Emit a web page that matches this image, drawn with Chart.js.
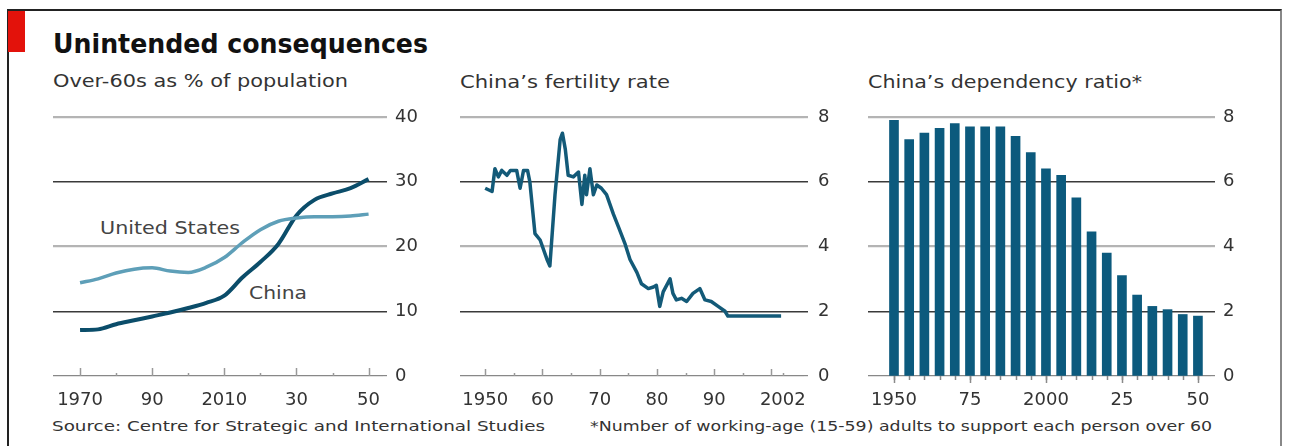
<!DOCTYPE html>
<html>
<head>
<meta charset="UTF-8">
<title>Unintended consequences</title>
<script src="https://cdn.jsdelivr.net/npm/chart.js"></script>
<style>
  body { margin: 0; background: #fff; width: 1290px; height: 446px; overflow: hidden; position: relative; font-family: "DejaVu Sans", sans-serif; }
  .frame { position: absolute; left: 7px; top: 9px; width: 1271px; height: 460px; border-top: 2px solid #222; border-left: 2px solid #222; border-right: 2px solid #888; }
  .red { position: absolute; left: 8px; top: 11px; width: 17px; height: 41px; background: #e3120b; }
  .t { position: absolute; white-space: nowrap; line-height: 1; transform-origin: 0 0; color: #333; }
  canvas { position: absolute; }
</style>
</head>
<body>
<div class="frame"></div>
<div class="red"></div>
<div class="t" data-w="375" style="left:53px;top:30px;font-size:27px;font-weight:bold;color:#111">Unintended consequences</div>
<div class="t" data-w="295" style="left:53px;top:72px;font-size:18px">Over-60s as % of population</div>
<div class="t" data-w="210" style="left:460px;top:73px;font-size:18px">China’s fertility rate</div>
<div class="t" data-w="274" style="left:868px;top:73px;font-size:18px">China’s dependency ratio*</div>
<div class="t" data-w="493" style="left:52px;top:419px;font-size:14px">Source: Centre for Strategic and International Studies</div>
<div class="t" data-w="622" style="left:590px;top:419px;font-size:14px">*Number of working-age (15-59) adults to support each person over 60</div>
<div class="t" data-w="140" style="left:100px;top:219px;font-size:18px;color:#444">United States</div>
<div class="t" data-w="58" style="left:249px;top:284px;font-size:18px;color:#444">China</div>

<canvas id="c1" width="375" height="311" style="left:53px;top:105px"></canvas>
<canvas id="c2" width="389" height="311" style="left:460px;top:105px"></canvas>
<canvas id="c3" width="388" height="311" style="left:868px;top:105px"></canvas>

<script>
// Over-60s as % of population
const popYears = [1970, 1975, 1980, 1985, 1990, 1995, 2000, 2005, 2010, 2015, 2020, 2025, 2030, 2035, 2040, 2045, 2050];
const chinaOver60 = [7.1, 7.2, 8.0, 8.6, 9.2, 9.8, 10.5, 11.3, 12.4, 15.2, 17.6, 20.4, 24.8, 27.2, 28.2, 29.0, 30.4];
const usOver60 = [14.4, 15.0, 15.9, 16.5, 16.7, 16.2, 16.0, 16.8, 18.3, 20.6, 22.6, 23.9, 24.4, 24.6, 24.6, 24.7, 25.0];
const popTicks = [1970, 1990, 2010, 2030, 2050];
const popTickLabels = ['1970', '90', '2010', '30', '50'];
const popMinor = [1980, 2000, 2020, 2040];
const popY = [0, 10, 20, 30, 40];

// China's fertility rate
const fertYears = [1950, 1951.2, 1951.7, 1952.3, 1952.9, 1953.8, 1954.4, 1955.5, 1956.1, 1956.7, 1957.4, 1957.8,
  1958.7, 1959.6, 1960.8, 1961.3, 1962.2, 1963.1, 1963.5, 1964.0, 1964.5, 1965.4, 1966.3, 1966.9, 1967.4,
  1967.7, 1968.3, 1968.9, 1969.5, 1970.3, 1971.2, 1972.4, 1973.3, 1974.4, 1975.3, 1976.5, 1977.3, 1978.5,
  1979.4, 1979.9, 1980.5, 1981.1, 1982.3, 1982.8, 1983.4, 1984.3, 1985.2, 1986.3, 1987.5, 1988.4, 1989.5,
  1990.7, 1991.9, 1992.4, 2001.7];
const fertRate = [5.8, 5.7, 6.4, 6.15, 6.35, 6.2, 6.35, 6.35, 5.8, 6.35, 6.35, 6.0,
  4.4, 4.2, 3.6, 3.4, 5.6, 7.3, 7.5, 7.0, 6.2, 6.15, 6.3, 5.3, 6.2,
  5.6, 6.4, 5.6, 5.9, 5.8, 5.6, 5.0, 4.6, 4.1, 3.6, 3.2, 2.85, 2.7,
  2.75, 2.8, 2.15, 2.6, 3.0, 2.55, 2.35, 2.4, 2.3, 2.55, 2.7, 2.35, 2.3,
  2.15, 2.0, 1.85, 1.85];
const fertTicks = [1950, 1960, 1970, 1980, 1990, 2002];
const fertTickLabels = ['1950', '60', '70', '80', '90', '2002'];
const fertMajor = [1950, 1960, 1970, 1980, 1990, 2000];
const fertMinor = [1955, 1965, 1975, 1985, 1995, 2002];
const rateY = [0, 2, 4, 6, 8];

// China's dependency ratio
const depYears = [1950, 1955, 1960, 1965, 1970, 1975, 1980, 1985, 1990, 1995, 2000, 2005, 2010, 2015, 2020, 2025, 2030, 2035, 2040, 2045, 2050];
const depRatio = [7.9, 7.3, 7.5, 7.65, 7.8, 7.7, 7.7, 7.7, 7.4, 6.9, 6.4, 6.2, 5.5, 4.45, 3.8, 3.1, 2.5, 2.15, 2.05, 1.9, 1.85];
const depTicks = [1950, 1975, 2000, 2025, 2050];
const depTickLabels = ['1950', '75', '2000', '25', '50'];

const FONT = { family: 'DejaVu Sans', size: 18 };
const GREY = '#b4b4b4', DARK = '#3a3a3a';

// small tick marks on the baseline, drawn through the x scale
const baseTicks = {
  id: 'baseTicks',
  afterDraw(chart, args, o) {
    if (!o.major) return;
    const ctx = chart.ctx, xs = chart.scales.x, y0 = chart.scales.y.getPixelForValue(0);
    ctx.save();
    ctx.strokeStyle = o.color;
    ctx.lineWidth = 1.5;
    const draw = (vals, len) => vals.forEach(v => {
      const px = Math.round(xs.getPixelForValue(v)) + 0.5;
      ctx.beginPath(); ctx.moveTo(px, y0); ctx.lineTo(px, y0 + o.dir * len); ctx.stroke();
    });
    draw(o.major, o.majorLen);
    draw(o.minor || [], o.minorLen);
    ctx.restore();
  }
};
Chart.register(baseTicks);

// no automatic label padding, the canvas placement fixes the plot area
function noPad(s) { s.paddingTop = s.paddingBottom = s.paddingLeft = s.paddingRight = 0; }

function yScale(vals, darkVals, pad) {
  return {
    position: 'right', min: vals[0], max: vals[vals.length - 1],
    afterBuildTicks: ax => { ax.ticks = vals.map(v => ({ value: v })); },
    afterFit: s => { s.width = 45; noPad(s); },
    border: { display: false },
    grid: {
      tickLength: 4,
      color: c => darkVals.includes(c.tick.value) ? DARK : (c.tick.value === 0 ? '#888' : GREY),
      lineWidth: c => darkVals.includes(c.tick.value) ? 1.5 : (c.tick.value === 0 ? 1.2 : 2.2)
    },
    ticks: { padding: pad, font: FONT, color: '#333', callback: v => String(v) }
  };
}

function xScale(min, max, ticks, labels) {
  return {
    type: 'linear', min: min, max: max, offset: false,
    afterBuildTicks: ax => { ax.ticks = ticks.map(v => ({ value: v })); },
    afterFit: s => { s.height = 40; noPad(s); },
    grid: { display: false }, border: { display: false },
    ticks: { padding: 6, font: FONT, color: '#333', maxRotation: 0, autoSkip: false,
      callback: v => labels[ticks.indexOf(v)] }
  };
}

const common = {
  responsive: false, animation: false, devicePixelRatio: 1,
  layout: { padding: { top: 12, left: 0, right: 0, bottom: 0 } },
  elements: { point: { radius: 0 } }
};

new Chart(document.getElementById('c1'), {
  type: 'line',
  data: {
    datasets: [
      { label: 'United States', data: popYears.map((x, i) => ({ x, y: usOver60[i] })),
        borderColor: '#5e9fb8', borderWidth: 3.5, cubicInterpolationMode: 'monotone' },
      { label: 'China', data: popYears.map((x, i) => ({ x, y: chinaOver60[i] })),
        borderColor: '#0b4d6a', borderWidth: 4, cubicInterpolationMode: 'monotone' }
    ]
  },
  options: Object.assign({}, common, {
    scales: { x: xScale(1962.5, 2054, popTicks, popTickLabels), y: yScale(popY, [10, 30], 8) },
    plugins: { legend: { display: false }, tooltip: { enabled: false },
      baseTicks: { major: popTicks, minor: popMinor, majorLen: 8, minorLen: 3, dir: -1, color: '#999' } }
  })
});

new Chart(document.getElementById('c2'), {
  type: 'line',
  data: {
    datasets: [
      { label: 'Fertility rate', data: fertYears.map((x, i) => ({ x, y: fertRate[i] })),
        borderColor: '#135a78', borderWidth: 3.5, tension: 0, borderJoinStyle: 'round' }
    ]
  },
  options: Object.assign({}, common, {
    scales: { x: xScale(1945.6, 2005.7, fertTicks, fertTickLabels), y: yScale(rateY, [2, 6], 10) },
    plugins: { legend: { display: false }, tooltip: { enabled: false },
      baseTicks: { major: fertMajor, minor: fertMinor, majorLen: 7, minorLen: 3, dir: -1, color: '#999' } }
  })
});

new Chart(document.getElementById('c3'), {
  type: 'bar',
  data: {
    datasets: [
      { label: 'Dependency ratio', data: depYears.map((x, i) => ({ x, y: depRatio[i] })),
        backgroundColor: '#0c5a7d', barThickness: 9 }
    ]
  },
  options: Object.assign({}, common, {
    scales: { x: xScale(1941.45, 2054.3, depTicks, depTickLabels), y: yScale(rateY, [2, 6], 8) },
    plugins: { legend: { display: false }, tooltip: { enabled: false },
      baseTicks: { major: depTicks, minor: depYears, majorLen: 7, minorLen: 4, dir: 1, color: '#8a8a8a' } }
  })
});

// stretch the text blocks to the widths they have in the original
document.querySelectorAll('[data-w]').forEach(el => {
  const w = el.getBoundingClientRect().width;
  el.style.transform = 'scaleX(' + (el.dataset.w / w) + ')';
});
</script>
</body>
</html>
